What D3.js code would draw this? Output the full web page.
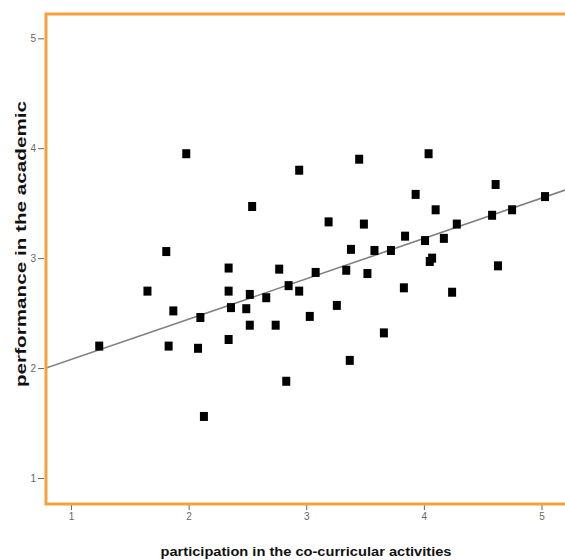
<!DOCTYPE html>
<html>
<head>
<meta charset="utf-8">
<script src="https://cdn.jsdelivr.net/npm/d3@7"></script>
<style>
  body { margin: 0; background: #fff; }
  svg { display: block; }
</style>
</head>
<body>
<div id="chart"></div>
<script>
// participation in co-curricular activities (x) vs academic performance (y)
const participation = [
  1.24, 1.65, 1.81, 1.83, 1.87, 1.98, 2.10, 2.08, 2.13, 2.34,
  2.34, 2.34, 2.36, 2.49, 2.52, 2.52, 2.54, 2.66, 2.74, 2.77,
  2.83, 2.85, 2.94, 2.94, 3.03, 3.08, 3.19, 3.26, 3.34, 3.38,
  3.37, 3.45, 3.49, 3.52, 3.58, 3.66, 3.72, 3.83, 3.84, 3.93,
  4.01, 4.04, 4.07, 4.05, 4.10, 4.17, 4.24, 4.28, 4.58, 4.61,
  4.63, 4.75, 5.03
];
const performance = [
  2.20, 2.70, 3.06, 2.20, 2.52, 3.95, 2.46, 2.18, 1.56, 2.91,
  2.70, 2.26, 2.55, 2.54, 2.67, 2.39, 3.47, 2.64, 2.39, 2.90,
  1.88, 2.75, 2.70, 3.80, 2.47, 2.87, 3.33, 2.57, 2.89, 3.08,
  2.07, 3.90, 3.31, 2.86, 3.07, 2.32, 3.07, 2.73, 3.20, 3.58,
  3.16, 3.95, 3.00, 2.97, 3.44, 3.18, 2.69, 3.31, 3.39, 3.67,
  2.93, 3.44, 3.56
];
const xTicks = [1, 2, 3, 4, 5];
const yTicks = [1, 2, 3, 4, 5];
// fit line: [intercept, slope]
const fitLine = [1.711, 0.367];

const xLabel = 'participation in the co-curricular activities';
const yLabel = 'performance in the academic';

const width = 565, height = 560;
const frame = { left: 46, top: 14, bottom: 504, right: 575 };

const data = participation.map((x, i) => ({ x, y: performance[i] }));

const x = d3.scaleLinear().domain([1, 5]).range([71, 541.5]);
const y = d3.scaleLinear().domain([1, 5]).range([478, 38.3]);

const svg = d3.select('#chart').append('svg')
  .attr('width', width)
  .attr('height', height)
  .style('font-family', '"Liberation Sans", Arial, sans-serif');

// axes (ticks outside the orange frame)
const xAxis = g => g
  .attr('transform', `translate(0,${frame.bottom + 1})`)
  .call(d3.axisBottom(x).tickValues(xTicks).tickFormat(d3.format('d')).tickSize(5).tickPadding(3))
  .call(g => g.select('.domain').remove())
  .call(g => g.selectAll('.tick line').attr('stroke', '#666'))
  .call(g => g.selectAll('.tick text').attr('fill', '#666').attr('font-size', 10));

const yAxis = g => g
  .attr('transform', `translate(${frame.left - 2},0)`)
  .call(d3.axisLeft(y).tickValues(yTicks).tickFormat(d3.format('d')).tickSize(6).tickPadding(2))
  .call(g => g.select('.domain').remove())
  .call(g => g.selectAll('.tick line').attr('stroke', '#666'))
  .call(g => g.selectAll('.tick text').attr('fill', '#666').attr('font-size', 10));

svg.append('g').call(xAxis);
svg.append('g').call(yAxis);

// clip for plot area
svg.append('clipPath').attr('id', 'plot')
  .append('rect')
  .attr('x', frame.left).attr('y', frame.top)
  .attr('width', frame.right - frame.left).attr('height', frame.bottom - frame.top);

const plot = svg.append('g').attr('clip-path', 'url(#plot)');

// fit line
const x0 = x.invert(frame.left), x1 = x.invert(width);
plot.append('line')
  .attr('x1', x(x0)).attr('y1', y(fitLine[0] + fitLine[1] * x0))
  .attr('x2', x(x1)).attr('y2', y(fitLine[0] + fitLine[1] * x1))
  .attr('stroke', '#808080')
  .attr('stroke-width', 1.6);

// points
plot.selectAll('rect.pt')
  .data(data)
  .join('rect')
  .attr('class', 'pt')
  .attr('x', d => x(d.x) - 4)
  .attr('y', d => y(d.y) - 4.5)
  .attr('width', 8)
  .attr('height', 9)
  .attr('fill', '#000');

// orange frame (no right edge visible)
svg.append('path')
  .attr('d', `M${width + 5},${frame.top}H${frame.left}V${frame.bottom}H${width + 5}`)
  .attr('fill', 'none')
  .attr('stroke', '#f5a23a')
  .attr('stroke-width', 3);

// axis titles
svg.append('text')
  .attr('x', 306)
  .attr('y', 556)
  .attr('text-anchor', 'middle')
  .attr('font-size', 13)
  .attr('font-weight', 'bold')
  .attr('fill', '#111')
  .attr('textLength', 291)
  .attr('lengthAdjust', 'spacingAndGlyphs')
  .text(xLabel);

svg.append('text')
  .attr('transform', 'translate(26,244) rotate(-90)')
  .attr('text-anchor', 'middle')
  .attr('font-size', 15)
  .attr('font-weight', 'bold')
  .attr('fill', '#111')
  .attr('textLength', 286)
  .attr('lengthAdjust', 'spacingAndGlyphs')
  .text(yLabel);
</script>
</body>
</html>
